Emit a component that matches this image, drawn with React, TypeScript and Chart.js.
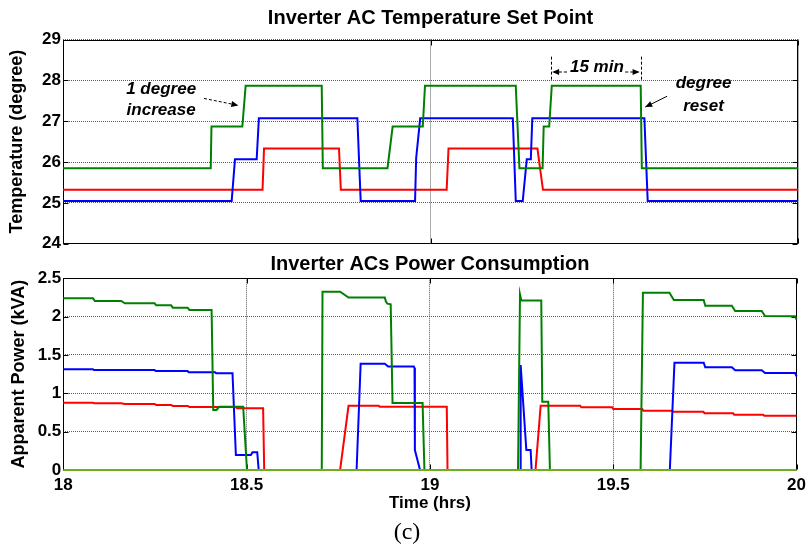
import React, { useEffect, useRef } from 'react';
import { Chart, registerables } from 'chart.js';

Chart.register(...registerables);

// ---------------- data ----------------
const tempTicksX = [18, 19, 20];
const tempTicksY = [24, 25, 26, 27, 28, 29];
const powerTicksX = [18, 18.5, 19, 19.5, 20];
const powerTicksY = [0, 0.5, 1, 1.5, 2, 2.5];

// Temperature set points
const greenSetTime = [18, 18.402, 18.404, 18.488, 18.497, 18.704, 18.707, 18.883, 18.897, 18.979, 18.985, 19.232, 19.242, 19.305, 19.308, 19.323, 19.33, 19.572, 19.575, 20];
const greenSetTemp = [25.85, 25.85, 26.87, 26.87, 27.87, 27.87, 25.85, 25.85, 26.87, 26.87, 27.87, 27.87, 25.85, 25.85, 26.87, 26.87, 27.87, 27.87, 25.85, 25.85];

const blueSetTime = [18, 18.459, 18.468, 18.527, 18.533, 18.801, 18.81, 18.958, 18.961, 18.972, 19.224, 19.232, 19.251, 19.262, 19.273, 19.277, 19.582, 19.591, 20];
const blueSetTemp = [25.05, 25.05, 26.07, 26.07, 27.07, 27.07, 25.05, 25.05, 26.1, 27.07, 27.07, 25.05, 25.05, 26.07, 26.07, 27.07, 27.07, 25.05, 25.05];

const redSetTime = [18, 18.543, 18.547, 18.751, 18.756, 19.044, 19.049, 19.291, 19.306, 20];
const redSetTemp = [25.32, 25.32, 26.33, 26.33, 25.32, 25.32, 26.33, 26.33, 25.32, 25.32];

// Apparent power
const greenPowTime = [18, 18.081, 18.086, 18.158, 18.168, 18.249, 18.2535, 18.294, 18.2987, 18.339, 18.344, 18.4045, 18.409, 18.418, 18.4254, 18.4906, 18.501, 18.705, 18.707, 18.755, 18.778, 18.877, 18.88, 18.884, 18.893, 18.898, 18.98, 18.985, 19.2403, 19.2457, 19.2493, 19.3037, 19.3064, 19.3228, 19.3273, 19.5746, 19.581, 19.6533, 19.6653, 19.7467, 19.751, 19.8235, 19.8326, 19.905, 19.914, 19.996, 20];
const greenPowVal = [2.239, 2.239, 2.204, 2.204, 2.174, 2.174, 2.148, 2.148, 2.117, 2.117, 2.087, 2.087, 0.783, 0.783, 0.826, 0.826, 0, 0, 2.326, 2.326, 2.248, 2.248, 2.196, 2.17, 2.16, 0.875, 0.875, 0, 0, 2.29, 2.21, 2.21, 0.89, 0.89, 0, 0, 2.313, 2.313, 2.217, 2.217, 2.143, 2.143, 2.074, 2.074, 2.009, 2.005, 1.96];

const bluePowTime = [18, 18.081, 18.084, 18.249, 18.252, 18.339, 18.342, 18.414, 18.417, 18.4615, 18.4707, 18.5115, 18.516, 18.529, 18.533, 18.8, 18.811, 18.877, 18.886, 18.956, 18.958, 18.959, 18.973, 19.246, 19.2475, 19.263, 19.2747, 19.2774, 19.6544, 19.667, 19.7467, 19.751, 19.8235, 19.8326, 19.905, 19.914, 19.996, 20];
const bluePowVal = [1.313, 1.313, 1.304, 1.304, 1.291, 1.291, 1.274, 1.274, 1.261, 1.261, 0.196, 0.196, 0.23, 0.23, 0, 0, 1.385, 1.385, 1.35, 1.35, 1.33, 0.26, 0, 0, 1.37, 0.26, 0.26, 0, 0, 1.4, 1.4, 1.339, 1.339, 1.3, 1.3, 1.265, 1.265, 1.22];

const redPowTime = [18, 18.081, 18.084, 18.158, 18.168, 18.249, 18.2535, 18.294, 18.2987, 18.339, 18.344, 18.47, 18.474, 18.545, 18.548, 18.755, 18.778, 18.86, 18.863, 19.046, 19.048, 19.288, 19.302, 19.41, 19.413, 19.497, 19.5, 19.579, 19.582, 19.66, 19.663, 19.746, 19.749, 19.827, 19.83, 19.909, 19.912, 20];
const redPowVal = [0.878, 0.878, 0.87, 0.87, 0.861, 0.861, 0.848, 0.848, 0.835, 0.835, 0.822, 0.822, 0.804, 0.804, 0, 0, 0.837, 0.837, 0.826, 0.826, 0, 0, 0.837, 0.837, 0.818, 0.818, 0.796, 0.796, 0.774, 0.774, 0.761, 0.761, 0.739, 0.739, 0.722, 0.722, 0.709, 0.709];

const limePowTime = [18, 20];
const limePowVal = [0, 0];

// annotation anchors (data units)
const annotTexts = [
  { text: '1 degree', t: 18.267, v: 27.785 },
  { text: 'increase', t: 18.267, v: 27.271 },
  { text: '15 min', t: 19.4528, v: 28.309 },
  { text: 'degree', t: 19.743, v: 27.93 },
  { text: 'reset', t: 19.743, v: 27.353 },
];
const annotArrows = [
  { t0: 18.3838, v0: 27.557, t1: 18.4772, v1: 27.387, dashed: true },
  { t0: 19.3712, v0: 28.2045, t1: 19.331, v1: 28.2045, dashed: true },
  { t0: 19.5299, v0: 28.2045, t1: 19.569, v1: 28.2045, dashed: true },
  { t0: 19.6439, v0: 27.612, t1: 19.5843, v1: 27.346, dashed: false },
];
const annotMarkers = [
  { t: 19.3276, v0: 28.58, v1: 27.98 },
  { t: 19.5726, v0: 28.58, v1: 27.98 },
];

// ---------------- styling ----------------
const FONT = '"Liberation Sans", Arial, Helvetica, sans-serif';
const GREEN = '#008000';
const BLUE = '#0000ff';
const RED = '#ff0000';
const LIME = '#6fae1f';

function series(label: string, xs: number[], ys: number[], color: string, order: number) {
  return {
    label,
    data: xs.map((x, i) => ({ x, y: ys[i] })),
    borderColor: color,
    backgroundColor: color,
    borderWidth: 2,
    pointRadius: 0,
    tension: 0,
    fill: false,
    clip: 3,
    order,
  };
}

function arrowHead(ctx: CanvasRenderingContext2D, x0: number, y0: number, x1: number, y1: number) {
  const ang = Math.atan2(y1 - y0, x1 - x0);
  const len = 7;
  const w = 3;
  ctx.beginPath();
  ctx.moveTo(x1, y1);
  ctx.lineTo(x1 - len * Math.cos(ang) + w * Math.sin(ang), y1 - len * Math.sin(ang) - w * Math.cos(ang));
  ctx.lineTo(x1 - len * Math.cos(ang) - w * Math.sin(ang), y1 - len * Math.sin(ang) + w * Math.cos(ang));
  ctx.closePath();
  ctx.fill();
}

function framePlugin(title: string, titleOffset: number, annotate: boolean) {
  return {
    id: 'frame' + title.length,
    beforeDatasetsDraw(chart: any) {
      const { ctx, chartArea: a } = chart;
      const xs = chart.scales.x;
      const ys = chart.scales.y;
      ctx.save();
      ctx.strokeStyle = '#000';
      ctx.lineWidth = 1;
      const L = Math.round(a.left) + 0.5;
      const R = Math.round(a.right) - 0.5;
      const T = Math.round(a.top) + 0.5;
      const B = Math.round(a.bottom) - 0.5;
      ctx.beginPath();
      ctx.rect(L, T, R - L, B - T);
      for (const tk of xs.ticks) {
        const px = Math.round(xs.getPixelForValue(tk.value)) + 0.5;
        ctx.moveTo(px, T); ctx.lineTo(px, T + 5);
        ctx.moveTo(px, B); ctx.lineTo(px, B - 5);
      }
      for (const tk of ys.ticks) {
        const py = Math.round(ys.getPixelForValue(tk.value)) + 0.5;
        ctx.moveTo(L, py); ctx.lineTo(L + 5, py);
        ctx.moveTo(R, py); ctx.lineTo(R - 5, py);
      }
      ctx.stroke();
      ctx.restore();
    },
    afterDraw(chart: any) {
      const { ctx, chartArea: a } = chart;
      const xs = chart.scales.x;
      const ys = chart.scales.y;
      ctx.save();
      ctx.fillStyle = '#000';
      ctx.font = `bold 20px ${FONT}`;
      ctx.textAlign = 'center';
      ctx.textBaseline = 'middle';
      ctx.fillText(title, (a.left + a.right) / 2, a.top - titleOffset);
      if (annotate) {
        ctx.font = `italic bold 17px ${FONT}`;
        for (const an of annotTexts) {
          ctx.fillText(an.text, xs.getPixelForValue(an.t), ys.getPixelForValue(an.v));
        }
        ctx.strokeStyle = '#000';
        ctx.lineWidth = 1;
        for (const m of annotMarkers) {
          const px = Math.round(xs.getPixelForValue(m.t)) + 0.5;
          ctx.setLineDash([3, 2]);
          ctx.beginPath();
          ctx.moveTo(px, ys.getPixelForValue(m.v0));
          ctx.lineTo(px, ys.getPixelForValue(m.v1));
          ctx.stroke();
        }
        for (const ar of annotArrows) {
          const x0 = xs.getPixelForValue(ar.t0);
          const y0 = ys.getPixelForValue(ar.v0);
          const x1 = xs.getPixelForValue(ar.t1);
          const y1 = ys.getPixelForValue(ar.v1);
          ctx.setLineDash(ar.dashed ? [3, 2] : []);
          ctx.beginPath();
          ctx.moveTo(x0, y0);
          ctx.lineTo(x1, y1);
          ctx.stroke();
          ctx.setLineDash([]);
          arrowHead(ctx, x0, y0, x1, y1);
        }
      }
      ctx.restore();
    },
  };
}

const tickFont = { family: FONT, size: 17, weight: 'bold' as const };
const axisTitleFont = { family: FONT, size: 18, weight: 'bold' as const };
const gridOpts = { color: '#5a5a5a', lineWidth: 1, drawTicks: false };
const borderOpts = { display: false, dash: [1, 1] };

function setTicks(values: number[]) {
  return (scale: any) => {
    scale.ticks = values.map((v) => ({ value: v }));
  };
}

function TempChart() {
  const ref = useRef<HTMLCanvasElement>(null);
  useEffect(() => {
    const chart = new Chart(ref.current as HTMLCanvasElement, {
      type: 'line',
      data: {
        datasets: [
          series('AC 3', greenSetTime, greenSetTemp, GREEN, 1),
          series('AC 2', blueSetTime, blueSetTemp, BLUE, 2),
          series('AC 1', redSetTime, redSetTemp, RED, 3),
        ] as any,
      },
      options: {
        animation: false,
        responsive: false,
        maintainAspectRatio: false,
        events: [],
        layout: { padding: { left: 0, right: 13, top: 39.5, bottom: 10.3 } },
        plugins: { legend: { display: false }, tooltip: { enabled: false }, title: { display: false } },
        scales: {
          x: {
            type: 'linear',
            min: 18,
            max: 20,
            afterBuildTicks: setTicks(tempTicksX),
            ticks: { display: false },
            grid: gridOpts,
            border: borderOpts,
            afterFit: (s: any) => { s.height = 0; },
          },
          y: {
            type: 'linear',
            min: 24,
            max: 29,
            afterBuildTicks: setTicks(tempTicksY),
            ticks: { color: '#000', font: tickFont, padding: 2 },
            grid: gridOpts,
            border: borderOpts,
            title: { display: true, text: 'Temperature (degree)', color: '#000', font: axisTitleFont, padding: { top: 6, bottom: 0 } },
            afterFit: (s: any) => { s.width = 63; },
          },
        },
      } as any,
      plugins: [framePlugin('Inverter AC Temperature Set Point', 21.4, true)],
    });
    return () => chart.destroy();
  }, []);
  return (
    <canvas ref={ref} width={811} height={256} style={{ position: 'absolute', left: 0, top: 0, width: 811, height: 256 }} />
  );
}

function PowerChart() {
  const ref = useRef<HTMLCanvasElement>(null);
  useEffect(() => {
    const chart = new Chart(ref.current as HTMLCanvasElement, {
      type: 'line',
      data: {
        datasets: [
          series('Zero', limePowTime, limePowVal, LIME, 0),
          series('AC 3', greenPowTime, greenPowVal, GREEN, 1),
          series('AC 2', bluePowTime, bluePowVal, BLUE, 2),
          series('AC 1', redPowTime, redPowVal, RED, 3),
        ] as any,
      },
      options: {
        animation: false,
        responsive: false,
        maintainAspectRatio: false,
        events: [],
        layout: { padding: { left: 0, right: 12, top: 30.3, bottom: 0 } },
        plugins: { legend: { display: false }, tooltip: { enabled: false }, title: { display: false } },
        scales: {
          x: {
            type: 'linear',
            min: 18,
            max: 20,
            afterBuildTicks: setTicks(powerTicksX),
            ticks: { color: '#000', font: tickFont, padding: 5, maxRotation: 0, callback: (v: any) => String(v) },
            grid: gridOpts,
            border: borderOpts,
            title: { display: true, text: 'Time (hrs)', color: '#000', font: { family: FONT, size: 17, weight: 'bold' }, padding: { top: 0, bottom: 34 } },
            afterFit: (s: any) => { s.height = 78; },
          },
          y: {
            type: 'linear',
            min: 0,
            max: 2.5,
            afterBuildTicks: setTicks(powerTicksY),
            ticks: { color: '#000', font: tickFont, padding: 2, callback: (v: any) => String(v) },
            grid: gridOpts,
            border: borderOpts,
            title: { display: true, text: 'Apparent Power (kVA)', color: '#000', font: axisTitleFont, padding: { top: 8.5, bottom: 0 } },
            afterFit: (s: any) => { s.width = 63.3; },
          },
        },
      } as any,
      plugins: [framePlugin('Inverter ACs Power Consumption', 13.5, false)],
    });
    return () => chart.destroy();
  }, []);
  return (
    <canvas ref={ref} width={811} height={300} style={{ position: 'absolute', left: 0, top: 248, width: 811, height: 300 }} />
  );
}

export default function App() {
  return (
    <div style={{ position: 'absolute', left: 0, top: 0, width: 811, height: 548, overflow: 'hidden', background: '#fff' }}>
      <TempChart />
      <PowerChart />
      <div
        style={{
          position: 'absolute',
          left: 0,
          top: 519,
          width: 814,
          textAlign: 'center',
          fontFamily: '"Liberation Serif", "Times New Roman", serif',
          fontSize: 24,
          lineHeight: '24px',
          color: '#000',
        }}
      >
        (c)
      </div>
    </div>
  );
}
